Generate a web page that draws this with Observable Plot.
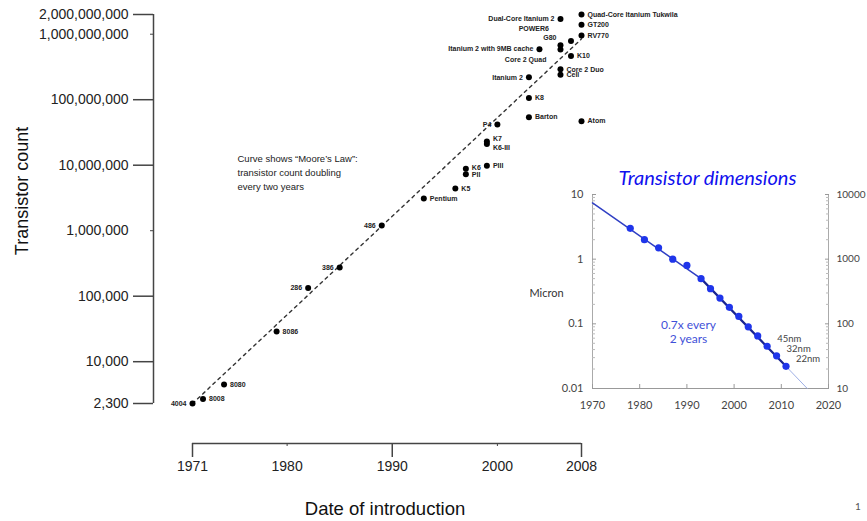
<!DOCTYPE html>
<html><head><meta charset="utf-8">
<script src="https://cdn.jsdelivr.net/npm/d3@7"></script>
<script src="https://cdn.jsdelivr.net/npm/@observablehq/plot@0.6"></script>
<style>
body{margin:0;background:#fff;}
#wrap{position:relative;width:867px;height:521px;overflow:hidden;font-family:"Liberation Sans",Arial,sans-serif;background:#fff;}
#main{position:absolute;left:0;top:0;}
#inset{position:absolute;left:530px;top:165px;}
#page{position:absolute;left:855px;top:500px;font-size:10px;color:#555;font-family:Lato,sans-serif;}
</style></head><body>
<div id="wrap"><div id="main"></div><div id="inset"></div><div id="page">1</div></div>
<script>
// ---------- main chart data ----------
const chips = ["4004","8008","8080","8086","286","386","486","Pentium","K5","K6","PII","PIII","K7","K6-III","P4","Barton","K8","Itanium 2","Atom","Cell","Core 2 Duo","K10","Core 2 Quad","Itanium 2 with 9MB cache","G80","POWER6","Dual-Core Itanium 2","Quad-Core Itanium Tukwila","GT200","RV770"];
const chipYears = [1971,1972,1974,1979,1982,1985,1989,1993,1996,1997,1997,1999,1999,1999,2000,2003,2003,2003,2008,2006,2006,2007,2006,2004,2006,2007,2006,2008,2008,2008];
const chipCounts = [2300,2700,4500,29000,134000,275000,1200000,3100000,4400000,8800000,7300000,9800000,23000000,21000000,42000000,54000000,106000000,220000000,47000000,241000000,291000000,463000000,582000000,592000000,681000000,789000000,1700000000,2000000000,1400000000,956000000];
const yTickValues = [2300, 10000, 100000, 1000000, 10000000, 100000000, 1000000000, 2000000000];
const yLongTicks = [2300, 10000, 100000, 10000000, 100000000, 2000000000];
const yShortTicks = [1000000, 1000000000];
const xTickValues = [1971, 1980, 1990, 2000, 2008];
const xLongTicks = [1971, 1990, 2008];
const xShortTicks = [1980, 2000];
const mooreYears = [1971, 2008];
const mooreCounts = [2300, 850000000];
const mooreNote = "Curve shows \u201cMoore\u2019s Law\u201d:\ntransistor count doubling\nevery two years";

// label placement (layout only): [dx, dy] shifts
const leftLabels = new Set(["4004","286","386","486","P4","Itanium 2","Core 2 Quad","Itanium 2 with 9MB cache","G80","POWER6","Dual-Core Itanium 2"]);
const labelShift = {"K7":[0,-3],"K6-III":[0,4],"Core 2 Quad":[-8,10],"G80":[2,-7],"POWER6":[-16,-12],"K6":[0,-1],"PII":[0,1]};

// ---------- inset data ----------
const dimYears = [1978,1981,1984,1987,1990,1993,1995,1997,1999,2001,2003,2005,2007,2009,2011];
const dimMicrons = [3,2,1.5,1,0.8,0.5,0.35,0.25,0.18,0.13,0.09,0.065,0.045,0.032,0.022];
const fitYears = [1970, 1993, 2011];
const fitMicrons = [7.4, 0.5, 0.022];
const extYears = [2011, 2015.5];
const extMicrons = [0.022, 0.01];
const nodeLabels = ["45nm","32nm","22nm"];
const nodeYears = [2007, 2009, 2011];
const dimXTicks = [1970,1980,1990,2000,2010,2020];
const dimYTicks = [10,1,0.1,0.01];
const dimYRight = ["10000","1000","100","10"];
const dimYMinor = [0.02,0.03,0.04,0.05,0.06,0.07,0.08,0.09,0.2,0.3,0.4,0.5,0.6,0.7,0.8,0.9,2,3,4,5,6,7,8,9];

// ---------- main chart ----------
const chipData = chips.map((name,i)=>({name, year: chipYears[i], count: chipCounts[i]}));
const moore = mooreYears.map((y,i)=>({year:y, count: mooreCounts[i]}));
const fmt = d3.format(",");

const labelMarks = chipData.map(d => {
  const left = leftLabels.has(d.name);
  const s = labelShift[d.name] || [0,0];
  return Plot.text([d], {x:"year", y:"count", text:"name", textAnchor: left ? "end" : "start",
    dx: (left ? -6 : 6) + s[0], dy: s[1], fontSize: 7, fill: "#222", fontWeight: "bold"});
});

const main = Plot.plot({
  width: 867, height: 521,
  marginLeft: 192, marginRight: 286, marginTop: 14, marginBottom: 118,
  style: {fontFamily: "'Liberation Sans', Arial, sans-serif", background: "transparent", color: "#222"},
  x: {domain: [1971, 2008]},
  y: {type: "log", domain: [2300, 2000000000]},
  marks: [
    Plot.text(yTickValues, {y: d => d, text: d => fmt(d), frameAnchor: "left", dx: -64, textAnchor: "end", lineAnchor: "middle", fontSize: 14, fill: "#222"}),
    Plot.axisY({ticks: yLongTicks, tickSize: 20, dx: -39, tickFormat: () => "", stroke: "#444", strokeWidth: 1.5, label: null}),
    Plot.axisY({ticks: yShortTicks, tickSize: 3, dx: -39, tickFormat: () => "", stroke: "#444", label: null}),
    Plot.ruleX([xTickValues[0]], {y1: yTickValues[0], y2: yTickValues[yTickValues.length-1], dx: -39, stroke: "#444", strokeWidth: 1.5}),
    Plot.axisX({ticks: xTickValues, tickSize: 0, tickPadding: 18, dy: 40, tickFormat: d => String(d), fontSize: 14, fill: "#222", label: null}),
    Plot.axisX({ticks: xLongTicks, tickSize: 14, dy: 40, tickFormat: () => "", stroke: "#444", strokeWidth: 1.5, label: null}),
    Plot.axisX({ticks: xShortTicks, tickSize: 3, dy: 40, tickFormat: () => "", stroke: "#444", label: null}),
    Plot.ruleY([yTickValues[0]], {x1: xTickValues[0], x2: xTickValues[xTickValues.length-1], dy: 40, stroke: "#444", strokeWidth: 1.5}),
    Plot.line(moore, {x: "year", y: "count", stroke: "#333", strokeWidth: 1.4, strokeDasharray: "3,4"}),
    Plot.dot(chipData, {x: "year", y: "count", r: 3, fill: "#000"}),
    ...labelMarks,
    Plot.text([mooreNote], {frameAnchor: "top-left", dx: 45, dy: 138, textAnchor: "start", lineAnchor: "top", lineHeight: 1.45, fontSize: 9.5, fill: "#222"}),
    Plot.text(["Transistor count"], {frameAnchor: "left", rotate: -90, dx: -170, dy: -18, textAnchor: "middle", lineAnchor: "middle", fontSize: 18, fill: "#111"}),
    Plot.text(["Date of introduction"], {frameAnchor: "bottom", dy: 106, dx: -2, textAnchor: "middle", lineAnchor: "middle", fontSize: 18.5, fill: "#111"})
  ]
});
document.getElementById("main").append(main);

// ---------- inset ----------
const dim = dimYears.map((y,i)=>({year:y, micron: dimMicrons[i]}));
const fit = fitYears.map((y,i)=>({year:y, micron: fitMicrons[i]}));
const ext = extYears.map((y,i)=>({year:y, micron: extMicrons[i]}));
const nodes = nodeYears.map((y,i)=>({year:y, micron: dimMicrons[dimYears.indexOf(y)], label: nodeLabels[i]}));
const rightFmt = d => dimYRight[dimYTicks.indexOf(d)];

const inset = Plot.plot({
  width: 337, height: 250,
  marginLeft: 62, marginRight: 39, marginTop: 29, marginBottom: 27,
  style: {fontFamily: "Lato, 'Open Sans', sans-serif", background: "transparent", color: "#444"},
  x: {domain: [1970, 2020]},
  y: {type: "log", domain: [0.01, 10]},
  marks: [
    Plot.ruleY([dimYTicks[3]], {stroke: "#999"}),
    Plot.ruleX([dimXTicks[0], dimXTicks[dimXTicks.length-1]], {stroke: "#aaa"}),
    Plot.text(dimYTicks, {y: d => d, text: d => String(d), frameAnchor: "left", dx: -9, textAnchor: "end", lineAnchor: "middle", fontSize: 11, fill: "#444"}),
    Plot.text(dimYTicks, {y: d => d, text: rightFmt, frameAnchor: "right", dx: 8, textAnchor: "start", lineAnchor: "middle", fontSize: 10, fill: "#444"}),
    Plot.axisY({anchor: "left", ticks: dimYMinor, tickSize: 3, dx: 3, tickFormat: () => "", stroke: "#bbb", label: null}),
    Plot.axisY({anchor: "right", ticks: dimYMinor, tickSize: 3, dx: -3, tickFormat: () => "", stroke: "#bbb", label: null}),
    Plot.axisY({anchor: "left", ticks: dimYTicks, tickSize: 4, dx: 4, tickFormat: () => "", stroke: "#999", label: null}),
    Plot.axisY({anchor: "right", ticks: dimYTicks, tickSize: 4, dx: -4, tickFormat: () => "", stroke: "#999", label: null}),
    Plot.axisX({ticks: dimXTicks, tickSize: 0, tickPadding: 13, tickFormat: d => String(d), fontSize: 11, fill: "#444", label: null}),
    Plot.axisX({ticks: dimXTicks, tickSize: 4, dy: -4, tickFormat: () => "", stroke: "#999", label: null}),
    Plot.line(ext, {x: "year", y: "micron", stroke: "#9fb0e6", strokeWidth: 1}),
    Plot.line(fit.slice(0,2), {x: "year", y: "micron", stroke: "#2f3fc4", strokeWidth: 1.5}),
    Plot.line(fit.slice(1), {x: "year", y: "micron", stroke: "#1a2590", strokeWidth: 2.2}),
    Plot.dot(dim, {x: "year", y: "micron", r: 3.6, fill: "#1f35ea"}),
    Plot.text(nodes, {x: "year", y: "micron", text: "label", dx: 10, dy: -7, textAnchor: "start", fontSize: 9.5, fill: "#444"}),
    Plot.text(["0.7x every\n2 years"], {frameAnchor: "top-left", dx: 96, dy: 137, textAnchor: "middle", lineAnchor: "middle", lineHeight: 1.15, fontSize: 12, fill: "#3f51d8"}),
    Plot.text(["Micron"], {frameAnchor: "left", dx: -46, dy: 2, textAnchor: "middle", lineAnchor: "middle", fontSize: 11, fill: "#333"}),
    Plot.text(["Transistor dimensions"], {frameAnchor: "top", dy: -16, dx: -3, textAnchor: "middle", lineAnchor: "middle", fontSize: 20, fontStyle: "italic", fill: "#1010ee"})
  ]
});
document.getElementById("inset").append(inset);
</script>
</body></html>
